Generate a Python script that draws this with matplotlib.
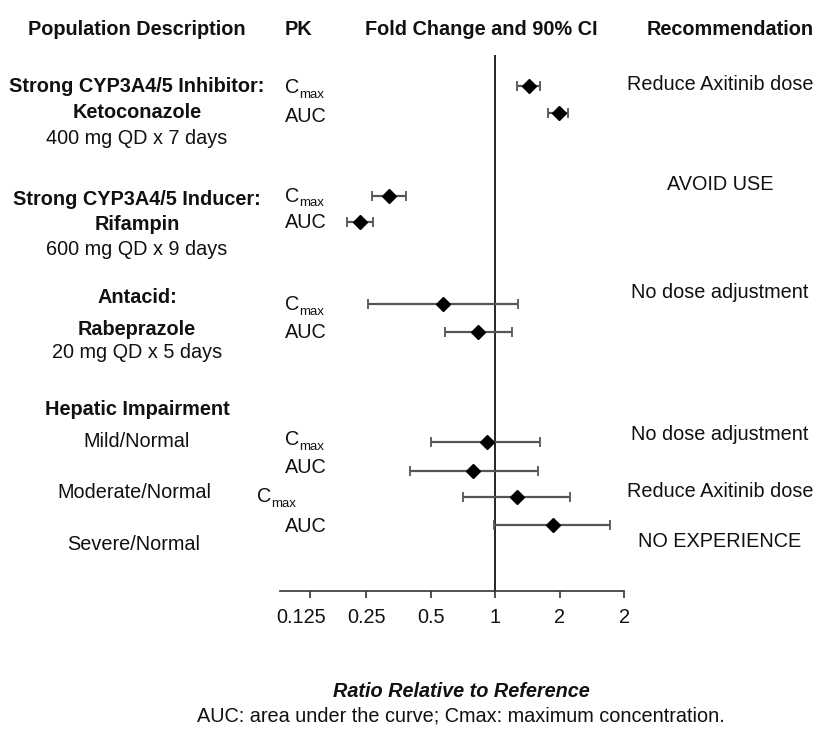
import matplotlib
matplotlib.use('Agg')
from matplotlib import pyplot as plt
from matplotlib.transforms import ScaledTranslation

plt.rcParams['font.family'] = ['Liberation Sans', 'DejaVu Sans']

W, H = 819, 732

# fold change (point estimate) and 90% CI, top to bottom
pk = ['Cmax', 'AUC', 'Cmax', 'AUC', 'Cmax', 'AUC', 'Cmax', 'AUC', 'Cmax', 'AUC']
fold = [1.44, 1.98, 0.32, 0.234, 0.574, 0.834, 0.918, 0.793, 1.26, 1.86]
ci_low = [1.26, 1.76, 0.266, 0.203, 0.256, 0.582, 0.50, 0.403, 0.709, 0.99]
ci_high = [1.62, 2.20, 0.384, 0.270, 1.28, 1.20, 1.63, 1.59, 2.24, 3.43]

tick_values = [0.137, 0.25, 0.5, 1, 2, 4]
tick_labels = ['0.125', '0.25', '0.5', '1', '2', '2']

headers = ['Population Description', 'PK', 'Fold Change and 90% CI', 'Recommendation']

groups = [
    ('Strong CYP3A4/5 Inhibitor:', 'bold'), ('Ketoconazole', 'bold'), ('400 mg QD x 7 days', 'normal'),
    ('Strong CYP3A4/5 Inducer:', 'bold'), ('Rifampin', 'bold'), ('600 mg QD x 9 days', 'normal'),
    ('Antacid:', 'bold'), ('Rabeprazole', 'bold'), ('20 mg QD x 5 days', 'normal'),
    ('Hepatic Impairment', 'bold'), ('Mild/Normal', 'normal'),
    ('Moderate/Normal', 'normal'), ('Severe/Normal', 'normal'),
]

recommendations = ['Reduce Axitinib dose', 'AVOID USE', 'No dose adjustment',
                   'No dose adjustment', 'Reduce Axitinib dose', 'NO EXPERIENCE']

# layout (pixel rows of the reference)
row_y = [86, 113.5, 196, 222.5, 304.5, 332.5, 442, 470.5, 496.5, 525]
pk_pos = [(285, 93), (285, 121.5), (285, 201.5), (285, 228), (285, 310),
          (285, 338), (285, 445), (285, 473), (257, 502), (285, 532)]
group_pos = [(137, 92.5), (137, 118), (137, 143.5), (137, 205), (137, 230), (137, 255),
             (137, 303), (137, 335), (137, 358), (137, 415), (137, 447),
             (134.5, 498), (134, 550)]
rec_pos = [90, 190, 298, 440, 497, 547]

FS = 14.3
INK = '#111111'

fig = plt.figure(figsize=(W / 100, H / 100), dpi=100)
ax = fig.add_axes([280 / W, 1 - 591 / H, (624 - 280) / W, (591 - 55) / H])


def txt(x, y, s, **kw):
    kw.setdefault('fontsize', FS)
    kw.setdefault('va', 'baseline')
    fig.text(x / W, 1 - y / H, s, color=INK, **kw)


ax.set_xscale('log', base=2)
ax.set_xlim(2 ** (-215 / 64.5), 4)
ax.set_ylim(591, 55)

ax.axvline(1, color='black', lw=1.2, zorder=1)
xerr = [[f - lo for f, lo in zip(fold, ci_low)], [hi - f for f, hi in zip(fold, ci_high)]]
ax.errorbar(fold, row_y, xerr=xerr, fmt='D', color='black', ms=7.5,
            ecolor='#555555', elinewidth=1.6, capsize=3.8, capthick=1.3, zorder=3)

for s in ['top', 'left', 'right']:
    ax.spines[s].set_visible(False)
ax.spines['bottom'].set_color('#333333')
ax.spines['bottom'].set_linewidth(1.2)
ax.set_yticks([])
ax.set_xticks(tick_values)
ax.set_xticklabels(tick_labels)
ax.minorticks_off()
ax.tick_params(axis='x', length=5, width=1.2, color='#333333', labelsize=FS,
               labelcolor=INK, pad=7)
# the first label sits a little left of its tick in the original
first = ax.get_xticklabels()[0]
first.set_transform(first.get_transform() + ScaledTranslation(-9 / 100, 0, fig.dpi_scale_trans))

# column headers
txt(136.5, 35, headers[0], ha='center', fontweight='bold')
txt(285, 35, headers[1], ha='left', fontweight='bold')
txt(481.5, 35, headers[2], ha='center', fontweight='bold')
txt(730.5, 35, headers[3], ha='center', fontweight='bold')

for (label, weight), (x, y) in zip(groups, group_pos):
    txt(x, y, label, ha='center', fontweight=weight)

for name, (x, y) in zip(pk, pk_pos):
    if name == 'Cmax':
        txt(x, y, 'C', ha='left')
        txt(x + 14.5, y + 5, 'max', ha='left', fontsize=9.5)
    else:
        txt(x, y, name, ha='left')

for rec, y in zip(recommendations, rec_pos):
    txt(720, y, rec, ha='center')

txt(461, 697, 'Ratio Relative to Reference', ha='center', fontweight='bold', style='italic')
txt(461, 721, 'AUC: area under the curve; Cmax: maximum concentration.', ha='center')

fig.savefig('out.png', dpi=100)
